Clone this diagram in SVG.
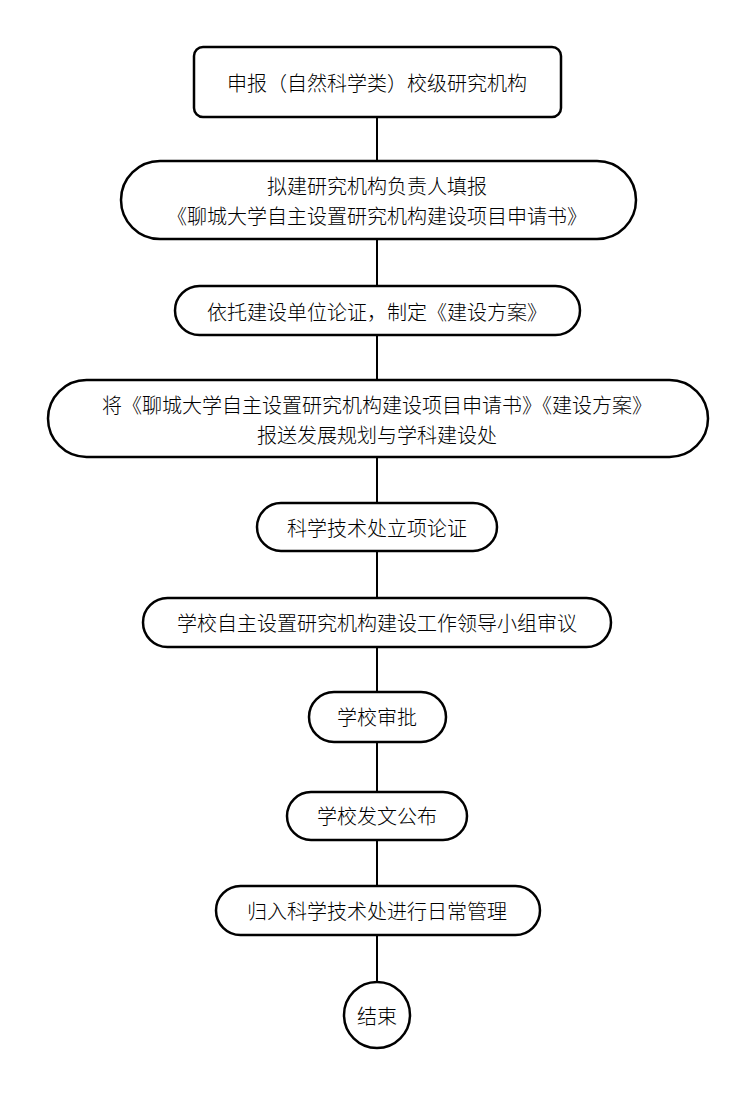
<svg xmlns="http://www.w3.org/2000/svg" width="756" height="1093" viewBox="0 0 756 1093">
<style>
.n{fill:#fff;stroke:#000;stroke-width:2.5}
.t{font-family:"Noto Sans CJK SC","Liberation Sans",sans-serif;font-size:20px;font-weight:300;fill:#000;text-anchor:middle;dominant-baseline:central}
.c{stroke:#000;stroke-width:2;fill:none}
</style>
<rect width="756" height="1093" fill="#fff"/>
<g id="connectors">
<line class="c" x1="377" y1="117" x2="377" y2="161"/>
<line class="c" x1="377" y1="239" x2="377" y2="286"/>
<line class="c" x1="377" y1="335" x2="377" y2="380"/>
<line class="c" x1="377" y1="457" x2="377" y2="503"/>
<line class="c" x1="377" y1="551" x2="377" y2="598"/>
<line class="c" x1="377" y1="647" x2="377" y2="692"/>
<line class="c" x1="377" y1="742" x2="377" y2="792"/>
<line class="c" x1="377" y1="840" x2="377" y2="886"/>
<line class="c" x1="377" y1="935" x2="377" y2="982"/>
</g>
<g id="n1"><rect class="n" x="194" y="47" width="367" height="70" rx="9"/><text class="t" x="377" y="82">申报（自然科学类）校级研究机构</text></g>
<g id="n2"><rect class="n" x="121" y="161" width="515" height="78" rx="39"/><text class="t" x="377" y="185">拟建研究机构负责人填报</text><text class="t" x="377" y="215">《聊城大学自主设置研究机构建设项目申请书》</text></g>
<g id="n3"><rect class="n" x="175" y="286" width="405" height="49" rx="24.5"/><text class="t" x="377" y="311">依托建设单位论证，制定《建设方案》</text></g>
<g id="n4"><rect class="n" x="48" y="380" width="660" height="77" rx="38.5"/><text class="t" x="377" y="404">将《聊城大学自主设置研究机构建设项目申请书》《建设方案》</text><text class="t" x="377" y="434">报送发展规划与学科建设处</text></g>
<g id="n5"><rect class="n" x="257" y="503" width="240" height="48" rx="24"/><text class="t" x="377" y="527">科学技术处立项论证</text></g>
<g id="n6"><rect class="n" x="143" y="598" width="468" height="49" rx="24.5"/><text class="t" x="377" y="622">学校自主设置研究机构建设工作领导小组审议</text></g>
<g id="n7"><rect class="n" x="309" y="692" width="137" height="50" rx="25"/><text class="t" x="377" y="716">学校审批</text></g>
<g id="n8"><rect class="n" x="287" y="792" width="180" height="48" rx="24"/><text class="t" x="377" y="815">学校发文公布</text></g>
<g id="n9"><rect class="n" x="216" y="886" width="324" height="49" rx="24.5"/><text class="t" x="377" y="910">归入科学技术处进行日常管理</text></g>
<g id="n10"><circle class="n" cx="377" cy="1015" r="33"/><text class="t" x="377" y="1015">结束</text></g>
</svg>
